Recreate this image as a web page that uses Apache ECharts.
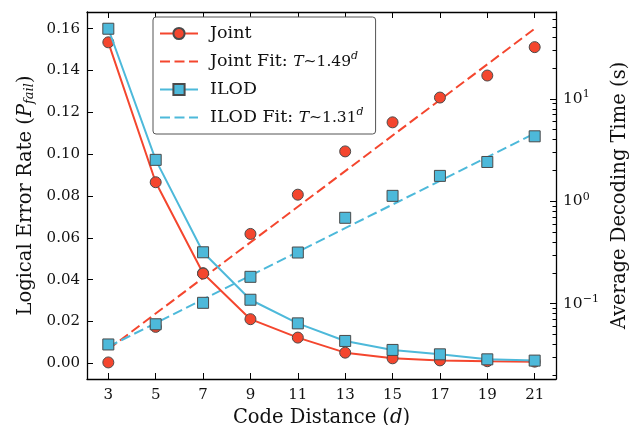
<!DOCTYPE html>
<html>
<head>
<meta charset="UTF-8">
<title>Joint vs ILOD</title>
<script src="https://cdn.jsdelivr.net/npm/echarts@6/dist/echarts.min.js"></script>
<style>
  html, body { margin: 0; padding: 0; background: #fff; }
  #chart { width: 638px; height: 425px; }
</style>
</head>
<body>
<div id="chart"></div>
<script>
// code distances (x categories / tick labels)
var distances = [3, 5, 7, 9, 11, 13, 15, 17, 19, 21];
// logical error rate, left axis
var jointErr = [0.1535, 0.0866, 0.0431, 0.0211, 0.0123, 0.0051, 0.0024, 0.0014, 0.0010, 0.0008];
var ilodErr  = [0.1600, 0.0973, 0.0531, 0.0304, 0.0191, 0.0107, 0.0064, 0.0043, 0.0019, 0.0013];
// average decoding time (s), right log axis
var jointTime = [0.0267, 0.0594, 0.197, 0.48, 1.16, 3.07, 5.9, 10.3, 16.9, 32.0];
var ilodTime  = [0.040, 0.063, 0.102, 0.183, 0.316, 0.69, 1.13, 1.77, 2.42, 4.31];
// fit lines, read at both ends
var fitDist = [3, 21];
var jointFit = [0.036, 48.4];
var ilodFit  = [0.038, 4.6];
var errTicks = [0, 0.02, 0.04, 0.06, 0.08, 0.10, 0.12, 0.14, 0.16];
var timeTicks = [0.1, 1, 10];

var RED = '#F4462E', CYAN = '#4DB9DA', EDGE = '#4a4a4a';
var FONT = 'DejaVu Serif';

function pairs(xs, ys) {
  return xs.map(function (x, i) { return [x, ys[i]]; });
}

// minor ticks for the log axis
var minorTicks = [];
[0.01, 0.1, 1, 10].forEach(function (p) {
  for (var k = 2; k <= 9; k++) minorTicks.push(+(p * k).toPrecision(3));
});

var chart = echarts.init(document.getElementById('chart'));

var spine = { show: true, onZero: false, lineStyle: { color: '#000', width: 1.3 } };
var markStyle = function (color) {
  return { color: color, borderColor: EDGE, borderWidth: 1, opacity: 1 };
};

var option = {
  animation: false,
  grid: { left: 87, right: 82, top: 12, bottom: 46, containLabel: false, outerBoundsMode: 'none' },
  xAxis: [{
    type: 'value', min: 2.1, max: 21.9, position: 'bottom',
    name: 'Code Distance ({i|d})', nameLocation: 'middle', nameGap: 28,
    nameTextStyle: { fontFamily: FONT, fontSize: 19.5, color: '#111',
      rich: { i: { fontFamily: FONT, fontStyle: 'italic', fontSize: 19.5, color: '#111' } } },
    axisLine: spine,
    axisTick: { show: true, inside: true, length: 6, customValues: distances, lineStyle: { color: '#000' } },
    axisLabel: { customValues: distances, margin: 9, fontFamily: FONT, fontSize: 15, color: '#111' },
    splitLine: { show: false }
  }, {
    type: 'value', min: 2.1, max: 21.9, position: 'top',
    axisLine: spine,
    axisTick: { show: true, inside: true, length: 6, customValues: distances, lineStyle: { color: '#000' } },
    axisLabel: { show: false },
    splitLine: { show: false }
  }],
  yAxis: [{
    type: 'value', min: -0.0075, max: 0.168, position: 'left',
    name: 'Logical Error Rate ({i|P}{sub|fail})', nameLocation: 'middle', nameGap: 51, nameRotate: 90,
    nameTextStyle: { fontFamily: FONT, fontSize: 19.5, color: '#111',
      rich: {
        i: { fontFamily: FONT, fontStyle: 'italic', fontSize: 19.5, color: '#111' },
        sub: { fontFamily: FONT, fontStyle: 'italic', fontSize: 13, color: '#111', padding: [7, 0, 0, 0] }
      } },
    axisLine: spine,
    axisTick: { show: true, inside: true, length: 6, customValues: errTicks, lineStyle: { color: '#000' } },
    axisLabel: { customValues: errTicks, margin: 7, fontFamily: FONT, fontSize: 15, color: '#111',
      formatter: function (v) { return v.toFixed(2); } },
    splitLine: { show: false }
  }, {
    type: 'log', logBase: 10, min: 0.0184, max: 70.5, position: 'right',
    name: 'Average Decoding Time (s)', nameLocation: 'middle', nameGap: 45, nameRotate: 90,
    nameTextStyle: { fontFamily: FONT, fontSize: 19.5, color: '#111' },
    axisLine: spine,
    axisTick: { show: true, inside: true, length: 6, customValues: timeTicks, lineStyle: { color: '#000' } },
    axisLabel: { customValues: timeTicks, margin: 7, fontFamily: FONT, fontSize: 15.5, color: '#111',
      formatter: function (v) {
        var e = Math.round(Math.log10(v));
        return '10{s|' + (e < 0 ? '\u2212' + (-e) : e) + '}';
      },
      rich: { s: { fontFamily: FONT, fontSize: 11, color: '#111', padding: [0, 0, 9, 0] } } },
    splitLine: { show: false }
  }, {
    type: 'log', logBase: 10, min: 0.0184, max: 70.5, position: 'right',
    axisLine: { show: false },
    axisTick: { show: true, inside: true, length: 3.5, customValues: minorTicks, lineStyle: { color: '#000' } },
    axisLabel: { show: false },
    splitLine: { show: false }
  }],
  legend: {
    data: [
      { name: 'Joint' },
      { name: 'Joint Fit', itemStyle: { opacity: 0 } },
      { name: 'ILOD' },
      { name: 'ILOD Fit', itemStyle: { opacity: 0 } }
    ],
    orient: 'vertical', left: 153, top: 17,
    backgroundColor: '#fff', borderColor: '#555', borderWidth: 1, borderRadius: 3,
    padding: [6, 12, 6, 6], itemWidth: 38, itemHeight: 14, itemGap: 7,
    textStyle: { fontFamily: FONT, fontSize: 17.5, color: '#111', lineHeight: 21, padding: [0, 0, 0, 7],
      rich: {
        m: { fontFamily: FONT, fontSize: 15.5, color: '#111' },
        mi: { fontFamily: FONT, fontStyle: 'italic', fontSize: 15.5, color: '#111' },
        s: { fontFamily: FONT, fontStyle: 'italic', fontSize: 11, color: '#111', padding: [0, 0, 10, 0] }
      } },
    formatter: function (name) {
      if (name === 'Joint Fit') return 'Joint Fit: {mi|T}{m|\u223C1.49}{s|d}';
      if (name === 'ILOD Fit') return 'ILOD Fit: {mi|T}{m|\u223C1.31}{s|d}';
      return name;
    }
  },
  series: [{
    name: 'Joint', type: 'line', xAxisIndex: 0, yAxisIndex: 0,
    data: pairs(distances, jointErr),
    lineStyle: { color: RED, width: 2 },
    symbol: 'circle', symbolSize: 11,
    itemStyle: markStyle(RED),
    z: 3
  }, {
    name: 'Joint time', type: 'scatter', xAxisIndex: 0, yAxisIndex: 1,
    data: pairs(distances, jointTime),
    symbol: 'circle', symbolSize: 11,
    itemStyle: markStyle(RED),
    z: 3
  }, {
    name: 'Joint Fit', type: 'line', xAxisIndex: 0, yAxisIndex: 1,
    data: pairs(fitDist, jointFit), symbol: 'none',
    lineStyle: { color: RED, width: 2, type: [10, 4.5] },
    itemStyle: { color: RED },
    z: 2
  }, {
    name: 'ILOD', type: 'line', xAxisIndex: 0, yAxisIndex: 0,
    data: pairs(distances, ilodErr),
    lineStyle: { color: CYAN, width: 2 },
    symbol: 'rect', symbolSize: 11,
    itemStyle: markStyle(CYAN),
    z: 4
  }, {
    name: 'ILOD time', type: 'scatter', xAxisIndex: 0, yAxisIndex: 1,
    data: pairs(distances, ilodTime),
    symbol: 'rect', symbolSize: 11,
    itemStyle: markStyle(CYAN),
    z: 4
  }, {
    name: 'ILOD Fit', type: 'line', xAxisIndex: 0, yAxisIndex: 1,
    data: pairs(fitDist, ilodFit), symbol: 'none',
    lineStyle: { color: CYAN, width: 2, type: [10, 4.5] },
    itemStyle: { color: CYAN },
    z: 2
  }]
};

chart.setOption(option);
</script>
</body>
</html>
